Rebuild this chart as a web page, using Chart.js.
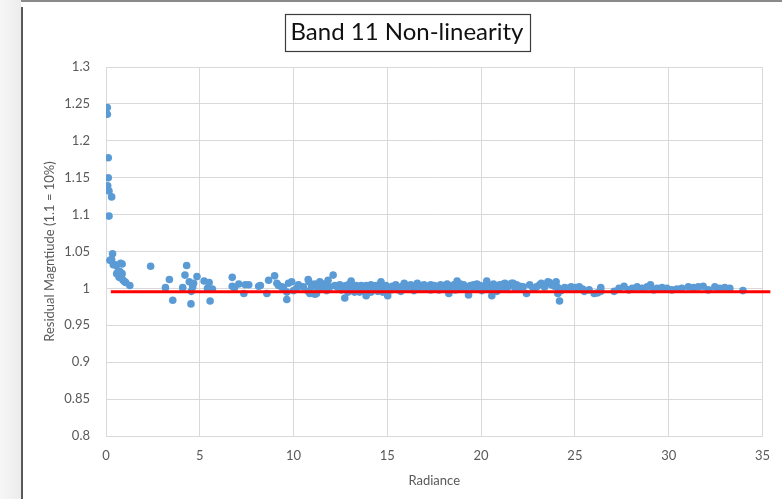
<!DOCTYPE html>
<html>
<head>
<meta charset="utf-8">
<title>Band 11 Non-linearity</title>
<script src="https://cdn.jsdelivr.net/npm/chart.js@4.4.1/dist/chart.umd.min.js"></script>
<style>
  html, body { margin: 0; padding: 0; background: #ffffff; }
  #wrap { position: relative; width: 782px; height: 499px; }
  canvas { display: block; }
</style>
</head>
<body>
<div id="wrap"><canvas id="chart" width="782" height="499"></canvas></div>
<script>
// Measured residual magnitude against radiance
const radiance = [
  0.07, 0.07, 0.12, 0.12, 0.09, 0.16, 0.30, 0.16, 0.35, 0.30, 0.21, 0.39, 0.48, 0.56, 0.78, 0.86,
  0.65, 0.57, 0.74, 0.86, 0.70, 0.83, 0.91, 1.00, 1.05, 1.27,
  2.38, 3.17, 3.38, 3.56, 4.09, 4.21, 4.30, 4.44, 4.53, 4.55, 4.62, 4.67, 4.85, 5.23, 5.41, 5.50,
  5.55, 5.67,
  6.73, 6.73, 6.85, 7.08, 7.35, 7.43, 7.61, 8.14, 8.23, 8.58, 8.67, 8.99, 9.11, 9.20, 9.37, 9.46,
  9.64, 9.64, 9.73, 9.90, 10.00, 10.17, 10.26, 10.52, 10.78, 10.82, 10.78, 10.87, 10.96, 11.14,
  11.14, 11.22, 11.31, 11.40, 11.49, 11.58, 11.67, 11.76, 11.84, 11.93, 12.11, 12.20, 12.33, 12.46,
  12.55, 12.64, 12.73, 12.81, 12.90, 12.98, 13.07, 13.07, 13.16, 13.25, 13.34, 13.43, 13.52, 13.60,
  13.69, 13.78, 13.87, 13.87, 13.96, 14.05, 14.13, 14.13, 14.22, 14.31, 14.40, 14.49, 14.57, 14.66,
  14.75, 14.84, 14.93, 15.02, 15.10, 15.18, 15.27, 15.36, 15.45, 15.54, 15.63, 15.72, 15.81, 15.90,
  15.99, 16.08, 16.16, 16.25, 16.34, 16.42, 16.51, 16.60, 16.69, 16.78, 16.87, 16.96, 17.05, 17.14,
  17.22, 17.31, 17.31, 17.40, 17.49, 17.58, 17.66, 17.75, 17.84, 17.93, 18.02, 18.10, 18.19, 18.28,
  18.37, 18.46, 18.55, 18.63, 18.72, 18.81, 18.90, 18.99, 19.07, 19.16, 19.25, 19.33, 19.43, 19.52,
  19.60, 19.69, 19.78, 19.87, 19.96, 20.04, 20.13, 20.22, 20.30, 20.40, 20.48, 20.57, 20.66, 20.75,
  20.84, 20.93, 21.00, 21.10, 21.19, 21.27, 21.36, 21.45, 21.54, 21.62, 21.71, 21.80, 21.89, 21.98,
  22.07, 22.24, 22.42, 22.59, 22.77, 22.95, 23.12, 23.21, 23.38, 23.56, 23.65, 23.74, 23.91, 24.00,
  24.09, 24.09, 24.18, 24.27, 24.45, 24.62, 24.80, 25.05, 25.23, 25.41, 25.50, 25.76, 26.03, 26.21,
  26.38, 26.38, 27.09, 27.35, 27.62, 27.88, 28.06, 28.32, 28.59, 28.85, 29.03, 29.20, 29.38, 29.65,
  29.91, 30.17, 30.44, 30.70, 31.05, 31.32, 31.58, 31.84, 32.11, 32.46, 32.72, 32.99, 33.26, 33.96
];
const residual = [
  1.245, 1.236, 1.177, 1.150, 1.139, 1.132, 1.124, 1.098, 1.047, 1.039, 1.038, 1.032, 1.032, 1.031, 1.034, 1.033,
  1.023, 1.020, 1.023, 1.020, 1.015, 1.014, 1.011, 1.009, 1.008, 1.004,
  1.030, 1.001, 1.012, 0.984, 1.001, 1.018, 1.031, 1.009, 0.979, 0.996, 1.002, 1.007, 1.016, 1.010, 1.000, 1.008,
  0.983, 0.999,
  1.015, 1.003, 1.001, 1.006, 0.993, 1.005, 1.005, 1.003, 1.004, 0.993, 1.011, 1.017, 1.007, 1.004, 1.002, 1.001,
  0.995, 0.985, 1.007, 1.009, 0.997, 1.000, 1.005, 1.002, 1.012, 1.009, 0.996, 0.993, 1.002, 1.006,
  0.992, 0.993, 1.000, 1.009, 0.999, 1.006, 1.003, 0.997, 1.011, 1.002, 1.018, 1.004, 1.002, 1.005,
  0.998, 1.003, 0.987, 1.004, 0.995, 1.006, 1.010, 1.003, 0.997, 0.995, 1.004, 1.001, 0.995, 1.004,
  1.002, 0.996, 1.004, 0.990, 0.999, 1.003, 1.005, 0.995, 1.001, 1.003, 1.004, 0.996, 1.001, 1.009,
  0.995, 1.002, 1.004, 0.990, 1.001, 0.998, 1.003, 1.000, 1.005, 1.002, 0.998, 0.996, 1.003, 1.007,
  1.001, 1.004, 0.999, 1.005, 1.002, 0.997, 1.003, 1.007, 1.000, 1.004, 1.002, 1.005, 0.999, 1.003,
  1.001, 1.005, 0.998, 1.002, 1.004, 1.000, 1.003, 0.998, 1.005, 1.002, 1.004, 0.999, 1.006, 0.993,
  1.003, 1.001, 1.005, 0.998, 1.010, 1.003, 1.006, 1.000, 1.005, 1.002, 0.998, 0.991, 1.004, 1.001,
  1.005, 0.999, 1.006, 1.002, 1.004, 0.997, 1.003, 1.001, 1.010, 1.004, 0.999, 0.990, 1.006, 1.002,
  0.996, 1.004, 1.005, 1.001, 1.006, 1.007, 0.999, 1.003, 1.005, 1.007, 1.007, 1.001, 1.005, 0.999,
  1.003, 1.002, 0.993, 1.005, 1.000, 1.002, 1.005, 1.007, 1.002, 1.009, 1.008, 1.005, 1.003, 1.009,
  0.993, 1.001, 0.983, 0.997, 1.001, 1.000, 1.002, 1.001, 1.002, 0.999, 0.996, 0.998, 0.993, 0.994,
  1.001, 0.996, 0.996, 1.000, 1.003, 0.998, 1.000, 1.002, 1.000, 1.002, 1.005, 0.998, 1.000, 1.001,
  1.000, 0.998, 0.999, 1.000, 1.002, 1.001, 1.002, 1.003, 0.998, 1.002, 1.000, 1.001, 1.000, 0.997
];

// Fitted reference line
const fitX = [0.26, 35.42];
const fitY = [0.9955, 0.9955];

// Axis tick labels
const xTickLabels = ['0', '5', '10', '15', '20', '25', '30', '35'];
const yTickLabels = ['0.8', '0.85', '0.9', '0.95', '1', '1.05', '1.1', '1.15', '1.2', '1.25', '1.3'];

const FONT = 'Lato, "Open Sans", sans-serif';

// Page frame: shaded margin strip, left rule and top rule
const framePlugin = {
  id: 'frame',
  beforeDraw(chart) {
    const ctx = chart.ctx;
    ctx.save();
    const g = ctx.createLinearGradient(0, 0, 21, 0);
    g.addColorStop(0, '#f6f6f6');
    g.addColorStop(1, '#ececec');
    ctx.fillStyle = g;
    ctx.fillRect(0, 0, 21, chart.height);
    ctx.fillStyle = '#5a5a5a';
    ctx.fillRect(21, 7, 2, chart.height - 7);
    ctx.fillStyle = '#8a8a8a';
    ctx.fillRect(21, 0, chart.width - 21, 2);
    ctx.restore();
  }
};

// Bordered box around the chart title
const titleBoxPlugin = {
  id: 'titleBox',
  afterDraw(chart) {
    const tb = chart.titleBlock;
    if (!tb) return;
    const opts = chart.options.plugins.title;
    const ctx = chart.ctx;
    ctx.save();
    ctx.font = opts.font.size + 'px ' + opts.font.family;
    const w = ctx.measureText(opts.text).width;
    const cx = (tb.left + tb.right) / 2;
    const cy = tb.top + opts.padding.top + opts.font.size * 1.2 / 2;
    ctx.strokeStyle = '#3c3c3c';
    ctx.lineWidth = 1.2;
    ctx.strokeRect(Math.round(cx - w / 2 - 6) + 0.5, Math.round(cy - 18.5) + 0.5, Math.round(w + 12), 37);
    ctx.restore();
  }
};

new Chart(document.getElementById('chart'), {
  data: {
    datasets: [
      {
        type: 'line',
        data: fitX.map((x, i) => ({ x, y: fitY[i] })),
        borderColor: '#ff0000',
        borderWidth: 3,
        pointRadius: 0,
        fill: false,
        clip: false
      },
      {
        type: 'scatter',
        data: radiance.map((x, i) => ({ x, y: residual[i] })),
        backgroundColor: '#5b9bd5',
        borderWidth: 0,
        pointRadius: 3.8,
        pointHoverRadius: 3.8
      }
    ]
  },
  options: {
    responsive: false,
    animation: false,
    devicePixelRatio: 1,
    layout: { padding: { left: 46, right: 14, top: 0, bottom: 6 } },
    plugins: {
      legend: { display: false },
      tooltip: { enabled: false },
      title: {
        display: true,
        text: 'Band 11 Non-linearity',
        color: '#111111',
        font: { family: FONT, size: 24, weight: 'normal' },
        padding: { top: 18, bottom: 20.2 }
      }
    },
    scales: {
      x: {
        type: 'linear',
        min: 0,
        max: 35,
        afterFit(scale) { scale.height = 57; },
        ticks: {
          stepSize: 5,
          padding: 12,
          color: '#595959',
          font: { family: FONT, size: 13 },
          maxRotation: 0,
          callback: (v, i) => xTickLabels[i]
        },
        grid: { color: '#d9d9d9', drawTicks: false },
        border: { color: '#d9d9d9' },
        title: {
          display: true,
          text: 'Radiance',
          color: '#595959',
          font: { family: FONT, size: 13 }
        }
      },
      y: {
        type: 'linear',
        min: 0.8,
        max: 1.3,
        afterFit(scale) { scale.width = 60; },
        ticks: {
          stepSize: 0.05,
          padding: 16,
          color: '#595959',
          font: { family: FONT, size: 13 },
          callback: (v, i) => yTickLabels[i]
        },
        grid: { color: '#d9d9d9', drawTicks: false },
        border: { color: '#d9d9d9' },
        title: {
          display: true,
          text: 'Residual Magntiude (1.1 = 10%)',
          color: '#595959',
          font: { family: FONT, size: 13 },
          padding: { top: -4, bottom: 0 }
        }
      }
    }
  },
  plugins: [framePlugin, titleBoxPlugin]
});
</script>
</body>
</html>
